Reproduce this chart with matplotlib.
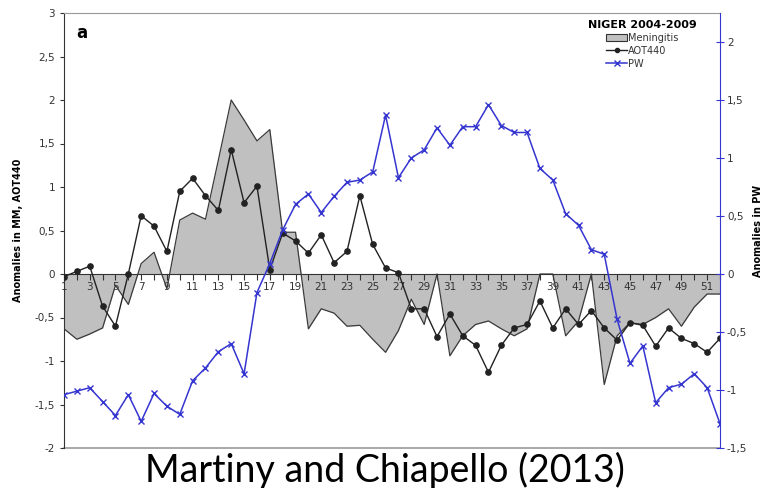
import matplotlib
matplotlib.use("Agg")
import matplotlib.pyplot as plt
from matplotlib.ticker import FuncFormatter, MultipleLocator
from matplotlib.patches import Patch
from matplotlib.lines import Line2D

weeks = list(range(1, 53))

meningitis = [-0.63, -0.75, -0.69, -0.62, -0.13, -0.35, 0.12, 0.25, -0.17, 0.62,
              0.70, 0.63, 1.31, 2.00, 1.77, 1.53, 1.66, 0.48, 0.48, -0.63,
              -0.40, -0.45, -0.60, -0.59, -0.75, -0.90, -0.65, -0.29, -0.58, 0.0,
              -0.94, -0.71, -0.58, -0.54, -0.63, -0.71, -0.63, 0.0, 0.0, -0.71,
              -0.54, 0.0, -1.27, -0.71, -0.56, -0.58, -0.50, -0.40, -0.60, -0.38,
              -0.23, -0.23]

aot440 = [-0.03, 0.03, 0.09, -0.37, -0.60, 0.0, 0.67, 0.55, 0.26, 0.95,
          1.10, 0.90, 0.73, 1.43, 0.82, 1.01, 0.05, 0.47, 0.38, 0.24,
          0.45, 0.13, 0.26, 0.90, 0.34, 0.07, 0.015, -0.40, -0.40, -0.72,
          -0.46, -0.71, -0.82, -1.13, -0.82, -0.62, -0.58, -0.31, -0.62, -0.40,
          -0.58, -0.42, -0.62, -0.76, -0.56, -0.59, -0.83, -0.62, -0.74, -0.80,
          -0.90, -0.74]

pw = [-1.04, -1.01, -0.98, -1.10, -1.22, -1.04, -1.27, -1.03, -1.14, -1.21,
      -0.92, -0.81, -0.67, -0.60, -0.86, -0.16, 0.09, 0.38, 0.60, 0.69,
      0.53, 0.67, 0.79, 0.81, 0.88, 1.37, 0.83, 1.00, 1.07, 1.26,
      1.11, 1.27, 1.27, 1.46, 1.28, 1.22, 1.22, 0.91, 0.81, 0.52,
      0.42, 0.21, 0.17, -0.39, -0.77, -0.62, -1.11, -0.98, -0.95, -0.86,
      -0.98, -1.29]

xtick_labels = [str(w) if w % 2 == 1 else "" for w in weeks]

comma = FuncFormatter(lambda v, pos: ("%g" % v).replace(".", ","))

fig = plt.figure(figsize=(7.64, 4.88), dpi=100)
ax = fig.add_axes([64 / 764, 1 - 448 / 488, 656 / 764, 435 / 488])
ax2 = ax.twinx()

# meningitis as excel-like area
ax.fill_between(weeks, meningitis, 0, color="#c0c0c0", linewidth=0, zorder=1)
ax.plot(weeks, meningitis, color="#3a3a3a", lw=0.9, zorder=2)
ax.plot(weeks, aot440, color="#222222", lw=1.0, marker="o", ms=3.8, zorder=3)
ax2.plot(weeks, pw, color="#3535d0", lw=1.1, marker="x", ms=4, mew=1.0)

ax.set_xlim(1, 52)
ax.set_ylim(-2, 3)
ax2.set_ylim(-1.5, 2.25)

# x axis sits at zero
ax.spines["bottom"].set_position(("data", 0))
ax.spines["bottom"].set_color("#333333")
ax.spines["top"].set_color("#999999")
ax.spines["left"].set_color("#333333")
ax.spines["right"].set_visible(False)
ax.axhline(-2, color="#999999", lw=1.2, clip_on=False, zorder=0)
ax2.spines["right"].set_color("#3535d0")
ax2.spines["left"].set_visible(False)
ax2.spines["top"].set_visible(False)
ax2.spines["bottom"].set_visible(False)

ax.set_xticks(weeks)
ax.set_xticklabels(xtick_labels)
ax.tick_params(axis="x", direction="out", length=4, width=0.8, color="#333333",
               labelsize=7.5, labelcolor="#333333", pad=2)
ax.yaxis.set_major_locator(MultipleLocator(0.5))
ax.yaxis.set_major_formatter(comma)
ax.tick_params(axis="y", direction="out", length=3, labelsize=7.5,
               labelcolor="#333333", color="#333333")

ax2.set_yticks([-1.5, -1, -0.5, 0, 0.5, 1, 1.5, 2])
ax2.yaxis.set_major_formatter(comma)
ax2.tick_params(axis="y", direction="inout", length=6, color="#3535d0",
                labelsize=7.5, labelcolor="#333333", pad=2)

ax.set_ylabel("Anomalies in MM, AOT440", fontsize=7, fontweight="bold", labelpad=8)
ax2.set_ylabel("Anomalies in PW", fontsize=7, fontweight="bold", labelpad=4)

ax.text(0.018, 0.955, "a", transform=ax.transAxes, fontsize=12, fontweight="bold",
        va="center", ha="left")

handles = [Patch(facecolor="#c0c0c0", edgecolor="#333333", lw=0.8),
           Line2D([], [], color="#222222", lw=1.0, marker="o", ms=3),
           Line2D([], [], color="#3535d0", lw=1.1, marker="x", ms=4)]
leg = ax.legend(handles, ["Meningitis", "AOT440", "PW"], loc="upper right",
                bbox_to_anchor=(0.975, 1.0), frameon=False, fontsize=7,
                title="NIGER 2004-2009", handlelength=2.2, handletextpad=0.1,
                labelspacing=0.3, borderaxespad=0.3)
leg.get_title().set_fontweight("bold")
leg.get_title().set_fontsize(8)
for t in leg.get_texts():
    t.set_color("#333333")

fig.text(0.504, 0.012, "Martiny and Chiapello (2013)", fontsize=27,
         family=["Lato", "DejaVu Sans"], ha="center", va="baseline")

fig.savefig("out.png", dpi=100)
